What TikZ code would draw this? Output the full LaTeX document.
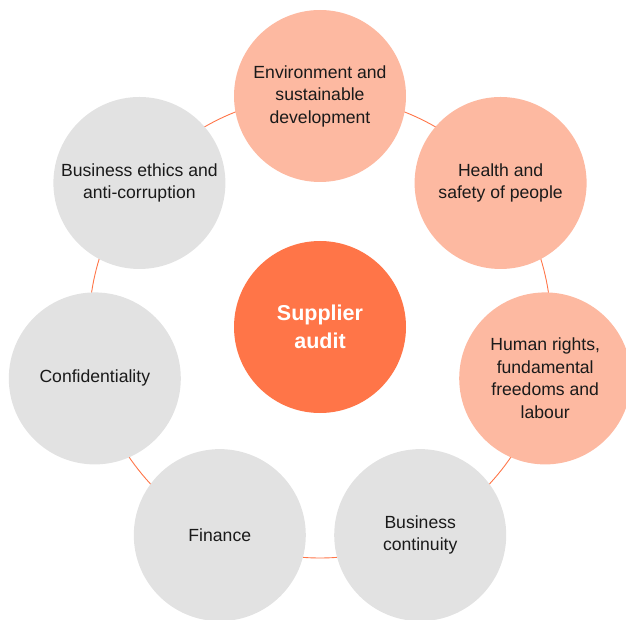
\documentclass[tikz,border=0pt]{standalone}
\usepackage{fontspec}
\setmainfont{Liberation Sans}
\usetikzlibrary{backgrounds,calc}
\definecolor{hubfill}{HTML}{FF7548}
\definecolor{warmfill}{HTML}{FDB9A1}
\definecolor{greyfill}{HTML}{E2E2E2}
\definecolor{ringline}{HTML}{FF7548}
\definecolor{inktext}{HTML}{1A1A1A}
\begin{document}
\begin{tikzpicture}[x=1pt,y=1pt,
  topic/.style={circle,minimum size=172pt,inner sep=0pt,align=center,
    font=\fontsize{17.6}{22.5}\selectfont,text=inktext},
  warm/.style={topic,fill=warmfill},
  grey/.style={topic,fill=greyfill},
  hub/.style={circle,minimum size=172pt,inner sep=0pt,align=center,fill=hubfill,
    text=white,font=\fontsize{21.5}{28}\selectfont\bfseries},
  ring/.style={draw=ringline,line width=0.9pt}]
\useasboundingbox (0,0) rectangle (626,-620);
\coordinate (c) at (320,-327);
% central hub
\node[hub] (audit) at (c) {Supplier\\audit};
% seven topics evenly spaced on a ring of radius 231
\node[warm] (env)    at ($(c)+(90:231)$)      {Environment and\\sustainable\\development};
\node[warm] (health) at ($(c)+(38.57:231)$)   {Health and\\safety of people};
\node[warm] (rights) at ($(c)+(-12.86:231)$)  {Human rights,\\fundamental\\freedoms and\\labour};
\node[grey] (cont)   at ($(c)+(-64.29:231)$)  {Business\\continuity};
\node[grey] (fin)    at ($(c)+(-115.71:231)$) {Finance};
\node[grey] (conf)   at ($(c)+(-167.14:231)$) {Confidentiality};
\node[grey] (ethics) at ($(c)+(141.43:231)$)  {Business ethics and\\anti-corruption};
% the ring passing through all topic centres, behind the circles
\begin{scope}[on background layer]
  \draw[ring] (audit.center) circle (231);
\end{scope}
\end{tikzpicture}
\end{document}
